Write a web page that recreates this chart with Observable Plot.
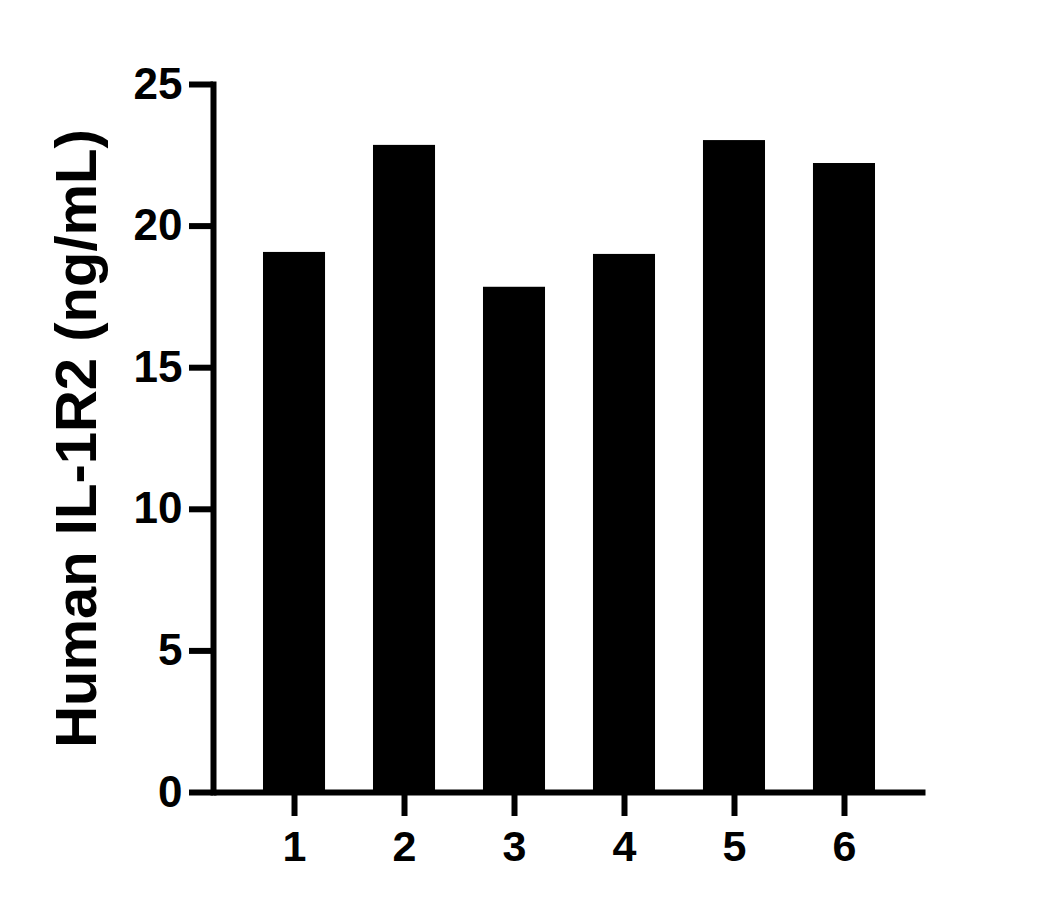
<!DOCTYPE html>
<html>
<head>
<meta charset="utf-8">
<script src="https://cdn.jsdelivr.net/npm/d3@7"></script>
<script src="https://cdn.jsdelivr.net/npm/@observablehq/plot@0.6"></script>
<style>
  html, body { margin: 0; padding: 0; background: #fff; }
  #chart svg { display: block; }
</style>
</head>
<body>
<div id="chart"></div>
<script>
const categories = ["1", "2", "3", "4", "5", "6"];
const values = [19.07, 22.85, 17.84, 19.0, 23.02, 22.21];
const yTicks = [0, 5, 10, 15, 20, 25];
const yTitle = "Human IL-1R2 (ng/mL)";

const data = categories.map((c, i) => ({ cat: c, value: values[i] }));
const font = "Arial, 'Liberation Sans', Helvetica, sans-serif";

const chart = Plot.plot({
  width: 1056,
  height: 909,
  marginLeft: 213,
  marginRight: 131,
  marginTop: 84,
  marginBottom: 117,
  style: { fontFamily: font, background: "#fff", color: "#000" },
  x: { type: "band", domain: categories, paddingInner: 0.436, paddingOuter: 0.4545, round: false },
  y: { domain: [0, 25] },
  marks: [
    Plot.barY(data, { x: "cat", y: "value", fill: "#000" }),
    Plot.frame({ anchor: "left", stroke: "#000", strokeWidth: 6, strokeLinecap: "square" }),
    Plot.frame({ anchor: "bottom", stroke: "#000", strokeWidth: 6, strokeLinecap: "butt" }),
    Plot.axisY({ ticks: yTicks, tickSize: 24, tickPadding: 7, strokeWidth: 6, fontSize: 44, fontWeight: "bold", label: null, tickFormat: d => String(d) }),
    Plot.axisX({ tickSize: 24, tickPadding: 14, strokeWidth: 6, fontSize: 43, fontWeight: "bold", label: null }),
    Plot.text([yTitle], { text: d => d, frameAnchor: "left", textAnchor: "middle", rotate: -90, dx: -136, fontSize: 58, fontWeight: "bold", fill: "#000" })
  ]
});
document.getElementById("chart").appendChild(chart);
</script>
</body>
</html>
